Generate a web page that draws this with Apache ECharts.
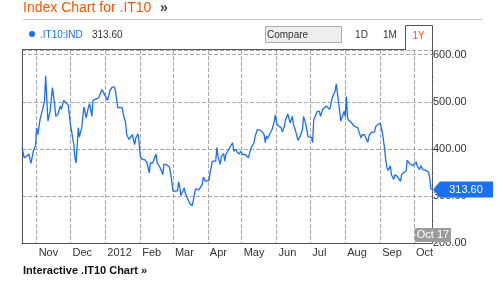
<!DOCTYPE html>
<html>
<head>
<meta charset="utf-8">
<script src="https://cdn.jsdelivr.net/npm/echarts@6/dist/echarts.min.js"></script>
<style>
html,body{margin:0;padding:0;background:#fff;}
#c{width:503px;height:288px;}
</style>
</head>
<body>
<div id="c"></div>
<script>
const seriesName = '.IT10:IND';
const dates = [
'2011-10-19','2011-10-21','2011-10-23','2011-10-25','2011-10-27','2011-10-29','2011-10-31',
'2011-11-01','2011-11-02','2011-11-04','2011-11-07','2011-11-08','2011-11-09','2011-11-11','2011-11-13','2011-11-15','2011-11-17','2011-11-18','2011-11-20','2011-11-22','2011-11-23','2011-11-25','2011-11-27','2011-11-29',
'2011-12-01','2011-12-02','2011-12-04','2011-12-05','2011-12-06','2011-12-08','2011-12-09','2011-12-11','2011-12-13','2011-12-15','2011-12-17','2011-12-18','2011-12-20','2011-12-21','2011-12-23','2011-12-26','2011-12-29','2011-12-30',
'2012-01-01','2012-01-03','2012-01-05','2012-01-07','2012-01-09','2012-01-10','2012-01-12','2012-01-14','2012-01-16','2012-01-17','2012-01-19','2012-01-20','2012-01-22','2012-01-23','2012-01-25','2012-01-27','2012-01-28','2012-01-30','2012-01-31',
'2012-02-01','2012-02-03','2012-02-05','2012-02-07','2012-02-09','2012-02-10','2012-02-12','2012-02-13','2012-02-15','2012-02-16','2012-02-18','2012-02-20','2012-02-21','2012-02-22','2012-02-24','2012-02-27','2012-02-29',
'2012-03-01','2012-03-03','2012-03-05','2012-03-06','2012-03-07','2012-03-08','2012-03-09','2012-03-11','2012-03-12','2012-03-14','2012-03-16','2012-03-18','2012-03-19','2012-03-21','2012-03-22','2012-03-24','2012-03-25','2012-03-27','2012-03-28','2012-03-30','2012-03-31',
'2012-04-02','2012-04-03','2012-04-05','2012-04-06','2012-04-08','2012-04-09','2012-04-10','2012-04-12','2012-04-13','2012-04-15','2012-04-16','2012-04-17','2012-04-19','2012-04-21','2012-04-23','2012-04-24','2012-04-26','2012-04-27','2012-04-29','2012-04-30',
'2012-05-02','2012-05-03','2012-05-04','2012-05-07','2012-05-09','2012-05-10','2012-05-12','2012-05-13','2012-05-15','2012-05-17','2012-05-18','2012-05-19','2012-05-21','2012-05-22','2012-05-23','2012-05-24','2012-05-26','2012-05-28','2012-05-30','2012-05-31',
'2012-06-01','2012-06-03','2012-06-05','2012-06-06','2012-06-08','2012-06-09','2012-06-11','2012-06-12','2012-06-13','2012-06-15','2012-06-16','2012-06-18','2012-06-20','2012-06-22','2012-06-24','2012-06-25','2012-06-26','2012-06-27','2012-06-29','2012-06-30',
'2012-07-02','2012-07-03','2012-07-04','2012-07-06','2012-07-07','2012-07-09','2012-07-10','2012-07-12','2012-07-13','2012-07-15','2012-07-16','2012-07-18','2012-07-19','2012-07-20','2012-07-21','2012-07-23','2012-07-24','2012-07-25','2012-07-27','2012-07-28','2012-07-29','2012-07-31',
'2012-08-01','2012-08-02','2012-08-03','2012-08-04','2012-08-06','2012-08-07','2012-08-09','2012-08-10','2012-08-12','2012-08-13','2012-08-15','2012-08-16','2012-08-18','2012-08-19','2012-08-21','2012-08-22','2012-08-24','2012-08-25','2012-08-27','2012-08-28','2012-08-29','2012-08-30',
'2012-09-01','2012-09-02','2012-09-03','2012-09-05','2012-09-06','2012-09-07','2012-09-08','2012-09-10','2012-09-11','2012-09-13','2012-09-14','2012-09-16','2012-09-17','2012-09-19','2012-09-20','2012-09-22','2012-09-23','2012-09-24','2012-09-25','2012-09-27','2012-09-28','2012-09-30',
'2012-10-01','2012-10-03','2012-10-04','2012-10-06','2012-10-07','2012-10-09','2012-10-10','2012-10-12','2012-10-14','2012-10-15','2012-10-16','2012-10-17'
];
const values = [
403,381,384,389,369,395,407,
445,430,462,491,501,555,459,480,530,494,469,474,491,484,503,498,493,
452,455,409,381,370,445,425,445,489,466,489,496,469,503,505,508,526,523,
512,503,523,531,531,523,487,488,487,473,455,430,420,416,430,409,423,432,413,
384,377,377,370,349,370,370,370,389,370,363,352,345,367,367,361,331,
310,310,311,330,320,301,305,317,306,294,284,279,289,315,319,313,310,324,340,331,333,
333,349,374,374,374,403,384,367,384,390,374,388,397,405,413,395,399,393,389,395,
388,391,388,381,400,400,413,427,441,440,441,437,430,413,427,422,432,441,459,472,
455,448,445,436,448,462,474,473,455,469,452,437,418,427,441,469,466,452,426,425,
424,413,462,473,479,480,469,484,487,491,490,484,491,505,512,523,538,519,480,459,466,480,
469,511,466,461,457,454,448,452,445,441,423,430,430,428,414,427,435,437,436,447,443,452,
454,445,434,399,374,360,354,364,345,335,345,342,343,331,345,350,352,353,376,369,367,364,
363,372,363,356,364,356,354,354,350,338,315,313.6
];
const xMin = '2011-10-19';
const xMax = '2012-10-17';
const xTickMonths = ['2011-11','2011-12','2012-01','2012-02','2012-03','2012-04','2012-05','2012-06','2012-07','2012-08','2012-09','2012-10'];
const xTickLabels = ['Nov','Dec','2012','Feb','Mar','Apr','May','Jun','Jul','Aug','Sep','Oct'];
const monthShort = ['Jan','Feb','Mar','Apr','May','Jun','Jul','Aug','Sep','Oct','Nov','Dec'];
const yTickValues = [200,300,400,500,600];
const yTickLabels = ['200.00','300.00','400.00','500.00','600.00'];

const FONT = '"Liberation Sans", Arial, sans-serif';
const BLUE = '#1a6ff2';
const ORANGE = '#ff5500';
const GRID = '#a8a8a8';

const data = dates.map((d, i) => [d, values[i]]);
const lastDate = dates[dates.length - 1];
const lastValue = values[values.length - 1];
const lastParts = lastDate.split('-');
const lastDateLabel = monthShort[parseInt(lastParts[1], 10) - 1] + ' ' + parseInt(lastParts[2], 10);

function pad(n){ return (n < 10 ? '0' : '') + n; }

const chart = echarts.init(document.getElementById('c'), null, {renderer: 'canvas'});
chart.setOption({
  animation: false,
  backgroundColor: '#fff',
  textStyle: {fontFamily: FONT},
  grid: {left: 22, right: 71, top: 50, bottom: 45, containLabel: false},
  xAxis: {
    type: 'time',
    min: xMin,
    max: xMax,
    minInterval: 28 * 86400000,
    maxInterval: 31 * 86400000,
    axisLine: {show: true, lineStyle: {color: '#555', width: 1}},
    axisTick: {show: false},
    splitLine: {show: true, lineStyle: {color: GRID, type: 'dashed', width: 1}},
    axisLabel: {
      show: true,
      showMinLabel: false,
      showMaxLabel: false,
      align: 'left',
      margin: 4,
      padding: [0, 0, 0, 2],
      color: '#333',
      fontSize: 11,
      fontFamily: FONT,
      hideOverlap: false,
      formatter: function (v) {
        const d = new Date(v);
        if (d.getDate() !== 1) return '';
        const key = d.getFullYear() + '-' + pad(d.getMonth() + 1);
        const idx = xTickMonths.indexOf(key);
        return idx >= 0 ? xTickLabels[idx] : '';
      }
    }
  },
  yAxis: [{
    type: 'value',
    position: 'right',
    min: 200,
    max: 610,
    interval: 100,
    axisLine: {show: true, lineStyle: {color: '#444', type: 'dotted', width: 1}},
    axisTick: {show: false},
    splitLine: {show: true, lineStyle: {color: GRID, type: 'dashed', width: 1}},
    axisLabel: {
      show: true,
      showMaxLabel: false,
      margin: 1,
      padding: [5, 0, 0, 0],
      color: '#333',
      fontSize: 11,
      fontFamily: FONT,
      formatter: function (v) {
        const idx = yTickValues.indexOf(v);
        return idx >= 0 ? yTickLabels[idx] : '';
      }
    }
  }, {
    type: 'value',
    position: 'left',
    min: 200,
    max: 610,
    axisLine: {show: true, lineStyle: {color: '#555', width: 1}},
    axisTick: {show: false},
    axisLabel: {show: false},
    splitLine: {show: false}
  }],
  series: [{
    name: seriesName,
    type: 'line',
    data: data,
    showSymbol: false,
    symbol: 'none',
    lineStyle: {color: BLUE, width: 1.3},
    z: 3,
    markPoint: {
      silent: true,
      animation: false,
      data: [{
        coord: [lastDate, lastValue],
        symbol: 'path://M0,8 L7,0 L60,0 L60,16 L7,16 Z',
        symbolSize: [60, 16],
        symbolKeepAspect: false,
        symbolOffset: [31, 0],
        itemStyle: {color: BLUE},
        label: {show: true, position: 'inside', offset: [3, 0], color: '#fff', fontSize: 11, fontFamily: FONT,
          formatter: function(){ return lastValue.toFixed(2); }}
      }, {
        coord: [lastDate, 200],
        symbol: 'rect',
        symbolSize: [36, 14],
        symbolOffset: [1, -8],
        itemStyle: {color: '#9c9c9c'},
        label: {show: true, position: 'inside', color: '#fff', fontSize: 11, fontFamily: FONT,
          formatter: function(){ return lastDateLabel; }}
      }]
    }
  }],
  graphic: [
    {type: 'text', left: 23, top: 1, style: {text: 'Index Chart for .IT10', fill: ORANGE, font: '14px ' + FONT}},
    {type: 'text', left: 160, top: 1, style: {text: '»', fill: '#444', font: 'bold 14px ' + FONT}},
    {type: 'line', shape: {x1: 23, y1: 19.5, x2: 482, y2: 19.5}, style: {stroke: '#c4c4c4', lineWidth: 1}},
    {type: 'circle', shape: {cx: 32, cy: 34, r: 3}, style: {fill: BLUE}},
    {type: 'text', x: 40, y: 35, style: {text: seriesName, fill: BLUE, font: '10px ' + FONT, verticalAlign: 'middle'}},
    {type: 'text', x: 92, y: 35, style: {text: lastValue.toFixed(2), fill: '#333', font: '10px ' + FONT, verticalAlign: 'middle'}},
    {type: 'rect', shape: {x: 265.5, y: 26.5, width: 76, height: 16}, style: {fill: '#eeeeee', stroke: '#aaaaaa', lineWidth: 1}},
    {type: 'text', x: 267, y: 35, style: {text: 'Compare', fill: '#333', font: '10px ' + FONT, verticalAlign: 'middle'}},
    {type: 'text', x: 361.5, y: 35, style: {text: '1D', fill: '#333', font: '10px ' + FONT, verticalAlign: 'middle', align: 'center'}},
    {type: 'text', x: 390, y: 35, style: {text: '1M', fill: '#333', font: '10px ' + FONT, verticalAlign: 'middle', align: 'center'}},
    {type: 'rect', z: 50, shape: {x: 406, y: 45, width: 26, height: 5}, style: {fill: '#fff'}},
    {type: 'polyline', z: 51, shape: {points: [[405.5, 50], [405.5, 25.5], [432.5, 25.5], [432.5, 50]]}, style: {stroke: '#555', lineWidth: 1, fill: null}},
    {type: 'text', z: 51, x: 418.5, y: 36, style: {text: '1Y', fill: ORANGE, font: '10px ' + FONT, verticalAlign: 'middle', align: 'center'}},
    {type: 'line', z: 51, shape: {x1: 22, y1: 49.5, x2: 405.5, y2: 49.5}, style: {stroke: '#555', lineWidth: 1}},
    {type: 'text', x: 23, y: 271, style: {text: 'Interactive .IT10 Chart »', fill: '#111', font: 'bold 11px ' + FONT, verticalAlign: 'middle'}}
  ]
});
</script>
</body>
</html>
